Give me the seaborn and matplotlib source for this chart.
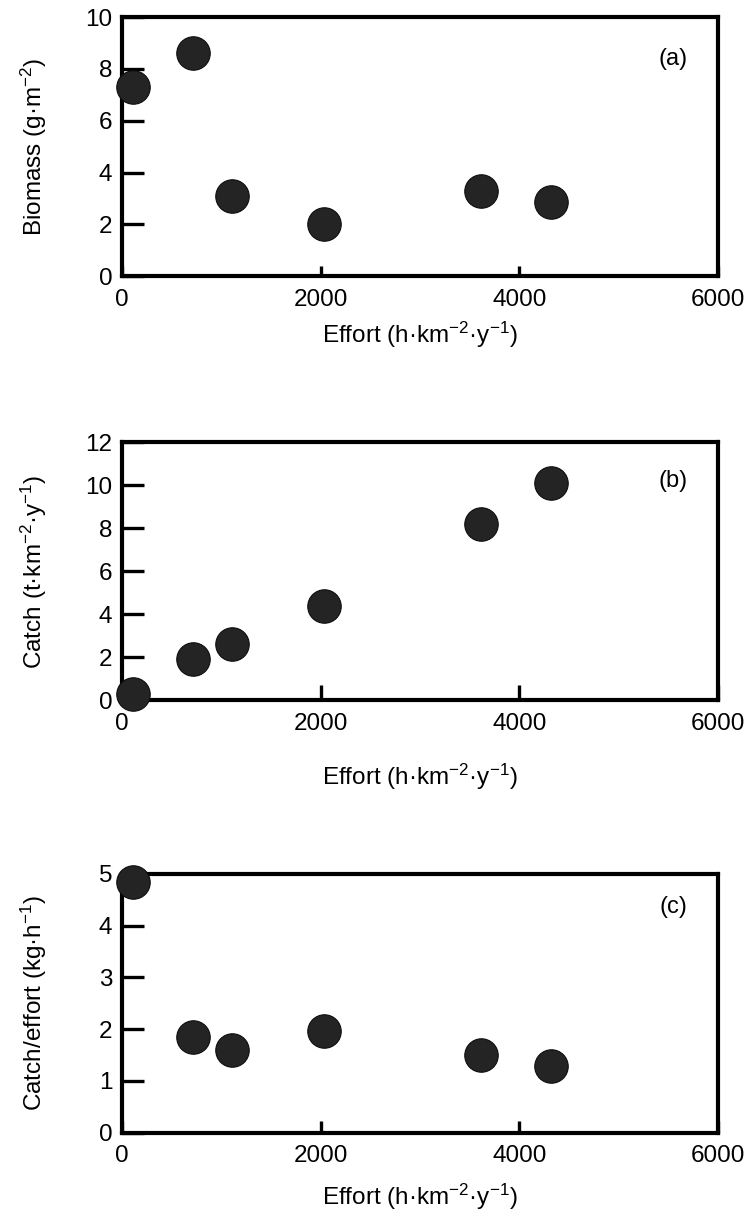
import numpy as np
import pandas as pd
import seaborn as sns
import matplotlib.pyplot as plt

# data
effort = [110, 720, 1110, 2030, 3610, 4320]
biomass = [7.3, 8.6, 3.1, 2.0, 3.3, 2.85]
catch = [0.3, 1.9, 2.6, 4.4, 8.2, 10.1]
cpue = [4.85, 1.85, 1.6, 1.97, 1.5, 1.28]

x_ticks = [0, 2000, 4000, 6000]

df = pd.DataFrame({"effort": effort, "biomass": biomass,
                   "catch": catch, "cpue": cpue})

sns.set_style("ticks")
plt.rcParams["font.family"] = ["Liberation Sans", "DejaVu Sans"]
plt.rcParams["mathtext.fontset"] = "custom"
plt.rcParams["mathtext.rm"] = "Liberation Sans"
plt.rcParams["mathtext.it"] = "Liberation Sans"
plt.rcParams["mathtext.bf"] = "Liberation Sans"
plt.rcParams["text.color"] = "black"
plt.rcParams["axes.labelcolor"] = "black"
plt.rcParams["xtick.color"] = "black"
plt.rcParams["ytick.color"] = "black"

fig = plt.figure(figsize=(7.48, 12.22), dpi=100)

xlab = "Effort (h·km$^{-2}$·y$^{-1}$)"

panels = [
    # col, ylim, yticks, ylabel, tag, axes rect, xlabel y, tag y, x tick len
    ("biomass", 10, [0, 2, 4, 6, 8, 10], "Biomass (g·m$^{-2}$)", "(a)",
     [0.163, 0.774, 0.797, 0.212], -0.227, 0.84, 7),
    ("catch", 12, [0, 2, 4, 6, 8, 10, 12], "Catch (t·km$^{-2}$·y$^{-1}$)", "(b)",
     [0.163, 0.427, 0.797, 0.211], -0.298, 0.85, 11),
    ("cpue", 5, [0, 1, 2, 3, 4, 5], "Catch/effort (kg·h$^{-1}$)", "(c)",
     [0.163, 0.073, 0.797, 0.212], -0.248, 0.87, 9),
]

for col, ytop, yt, ylab, tag, rect, xly, tagy, xtl in panels:
    ax = fig.add_axes(rect)
    sns.scatterplot(data=df, x="effort", y=col, ax=ax, s=580,
                    color="#242424", edgecolor="#0d0d0d", linewidth=0.8,
                    clip_on=False, zorder=5, legend=False)
    ax.set_xlim(0, 6000)
    ax.set_ylim(0, ytop)
    ax.set_xticks(x_ticks)
    ax.set_yticks(yt)
    for s in ax.spines.values():
        s.set_linewidth(3)
        s.set_color("black")
        s.set_visible(True)
    ax.tick_params(axis="y", direction="in", length=16, width=2.4,
                   labelsize=17.5, pad=7)
    ax.tick_params(axis="x", direction="in", length=xtl, width=2.4,
                   labelsize=17.5, pad=9)
    ax.set_ylabel(ylab, fontsize=17.5)
    ax.yaxis.set_label_coords(-0.122, 0.5)
    ax.set_xlabel(xlab, fontsize=17.5, va="center")
    ax.xaxis.set_label_coords(0.5, xly)
    ax.text(0.925, tagy, tag, transform=ax.transAxes, ha="center",
            va="center", fontsize=17)

plt.savefig("out.png", dpi=100)
